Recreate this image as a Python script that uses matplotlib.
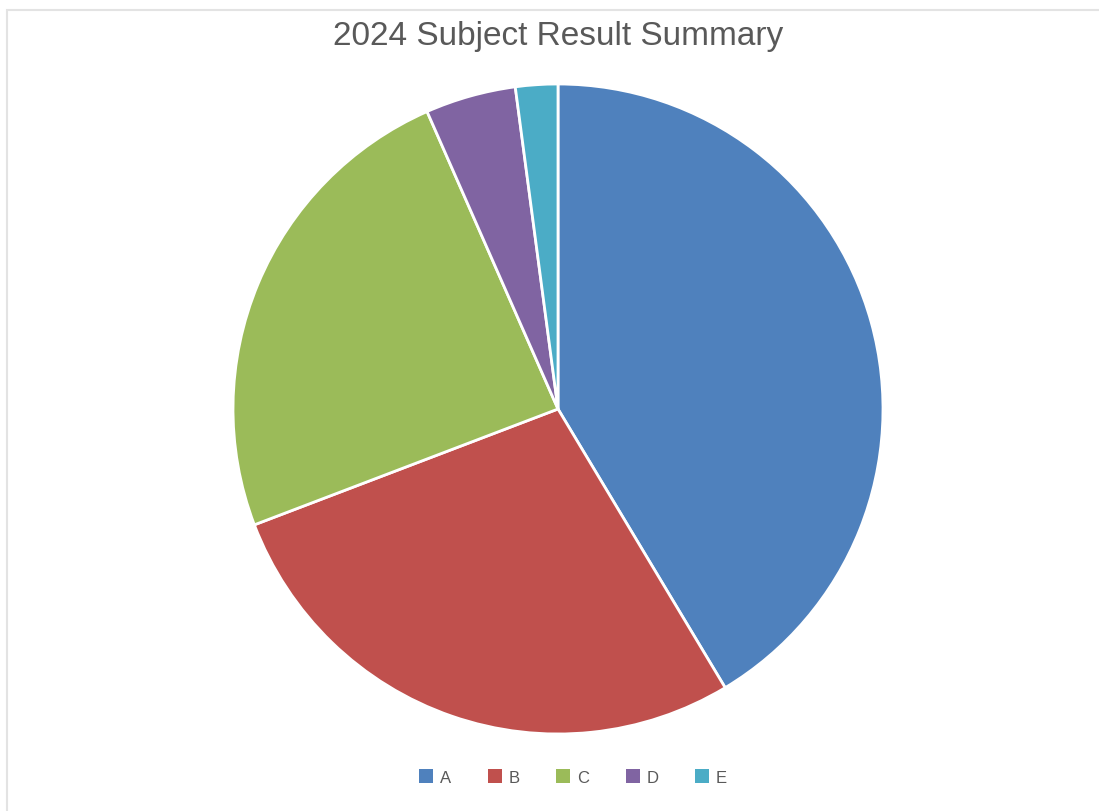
import matplotlib.pyplot as plt
from matplotlib.patches import Rectangle, Patch

grades = ["A", "B", "C", "D", "E"]
share = [41.4, 27.8, 24.2, 4.5, 2.1]
colors = ["#4F81BD", "#C0504D", "#9BBB59", "#8064A2", "#4BACC6"]

W, H = 1099, 812
fig = plt.figure(figsize=(W / 100, H / 100), dpi=100)

# light chart border (only top/left show inside the image)
fig.patches.append(Rectangle((7 / W, -0.1), 1.2, 1 - 11 / H + 0.1,
                             transform=fig.transFigure, fill=False,
                             edgecolor="#e3e3e3", linewidth=1.5))

r = 325
cx, cy = 558, 410
ax = fig.add_axes([(cx - r) / W, (H - cy - r) / H, 2 * r / W, 2 * r / H])
ax.pie(share, colors=colors, startangle=90, counterclock=False,
       wedgeprops=dict(edgecolor="white", linewidth=2))
ax.set_xlim(-1, 1)
ax.set_ylim(-1, 1)
ax.set_aspect("auto")

fig.text(cx / W, 1 - 37 / H, "2024 Subject Result Summary", ha="center",
         va="center", fontsize=24, color="#595959", family="Liberation Sans")

handles = [Patch(facecolor=c, edgecolor="none") for c in colors]
fig.legend(handles, grades, loc="center", bbox_to_anchor=(573 / W, 1 - 778 / H),
           ncol=5, frameon=False, handlelength=0.85, handleheight=0.85,
           handletextpad=0.4, columnspacing=2.2,
           prop=dict(family="Liberation Sans", size=12), labelcolor="#595959")

fig.savefig("out.png", dpi=100)
